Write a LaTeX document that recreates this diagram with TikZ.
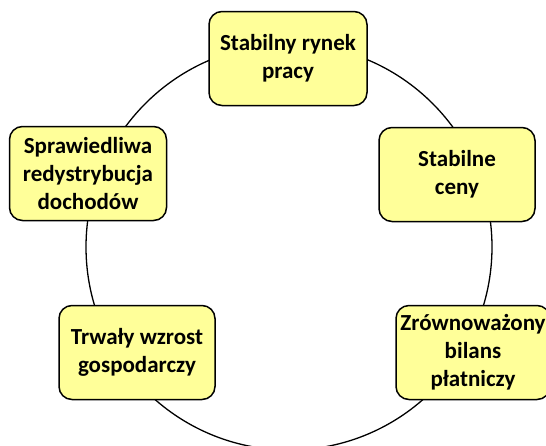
\documentclass[tikz,border=0pt]{standalone}
\usepackage{fontspec}
\setmainfont{Carlito}
\definecolor{boxyellow}{RGB}{255,255,153}
\begin{document}
\begin{tikzpicture}[x=1pt,y=-1pt,
  box/.style={draw=black, line width=1.5pt, fill=boxyellow, rounded corners=13pt,
    align=center, inner sep=0pt, minimum height=94pt,
    font=\fontsize{23}{28}\selectfont\bfseries},
  ring/.style={draw=black, line width=1.3pt}]
\useasboundingbox (0,0) rectangle (546,445);
\draw[ring] (289,247) circle[radius=203pt];
\node[box, minimum width=158pt] (rynek) at (288,58.5) {Stabilny rynek\\pracy};
\node[box, minimum width=157pt] (redys) at (88,173.5) {Sprawiedliwa\\redystrybucja\\dochodów};
\node[box, minimum width=156pt] (ceny) at (457,174.5) {Stabilne\\ceny};
\node[box, minimum width=156pt] (wzrost) at (137,352.5) {Trwały wzrost\\gospodarczy};
\node[box, minimum width=154pt] (bilans) at (473,352.5) {Zrównoważony\\bilans\\płatniczy};
\end{tikzpicture}
\end{document}
